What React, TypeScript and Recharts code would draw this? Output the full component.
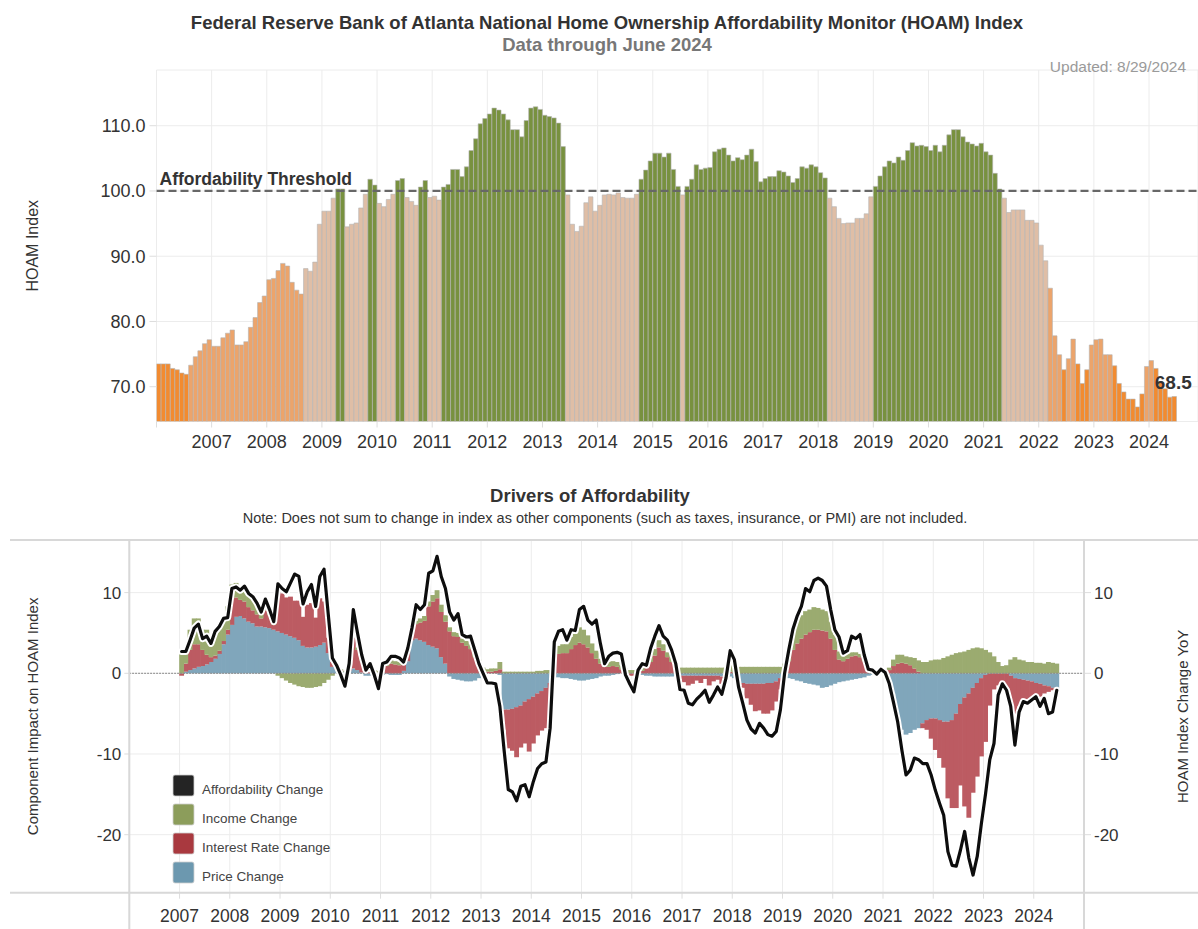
import React from 'react';
import {
  ComposedChart,
  Bar,
  Line,
  XAxis,
  YAxis,
  CartesianGrid,
  ReferenceLine,
  ReferenceDot,
  Cell,
} from 'recharts';

const FONT = "Arial, 'Liberation Sans', Helvetica, sans-serif";

// ---------- DATA ----------
const startYear = 2006; // first month of the HOAM index series = Jan 2006

// HOAM index, monthly Jan 2006 .. Jun 2024
const hoamIndex: number[] = [
  73.5, 73.5, 73.5, 72.8, 72.6, 72.1, 71.9, 73.3, 74.6, 75.5, 76.6, 77.2,
  76.2, 76.2, 77.5, 78.2, 78.7, 76.4, 76.4, 76.9, 79.1, 80.6, 82.9, 83.9,
  86.4, 86.6, 87.8, 88.9, 88.5, 86.0, 84.8, 84.2, 88.1, 87.7, 89.1, 94.9,
  96.9, 96.9, 98.9, 100.3, 100.3, 94.5, 94.9, 95.1, 97.4, 99.5, 101.8, 100.9,
  98.1, 97.6, 98.7, 99.5, 101.6, 101.9, 99.0, 98.4, 97.8, 100.6, 101.6, 99.0,
  99.2, 98.6, 100.6, 101.0, 103.3, 103.3, 102.2, 103.7, 106.2, 108.0, 110.3, 111.1,
  111.8, 112.7, 112.4, 111.8, 110.9, 109.4, 109.4, 108.3, 110.8, 112.7, 112.9, 112.5,
  111.6, 111.4, 111.2, 110.4, 106.8, 99.4, 94.9, 93.8, 94.6, 98.2, 99.1, 96.9,
  97.8, 99.4, 99.5, 99.4, 99.7, 99.0, 98.9, 98.9, 99.5, 101.8, 103.2, 104.6,
  105.8, 105.8, 105.2, 105.8, 103.3, 100.7, 99.4, 100.7, 101.8, 104.0, 103.3, 103.5,
  103.6, 106.0, 106.4, 106.6, 105.5, 104.6, 105.1, 104.8, 105.5, 106.4, 104.5, 101.4,
  101.9, 102.2, 102.2, 103.1, 102.9, 102.3, 101.3, 101.9, 103.7, 103.5, 104.0, 103.7,
  102.8, 102.0, 98.9, 97.6, 95.8, 95.0, 95.1, 95.1, 95.8, 95.8, 96.5, 99.1,
  100.7, 102.3, 103.7, 104.6, 104.3, 105.2, 104.7, 106.2, 107.4, 106.9, 107.0, 106.8,
  106.2, 107.0, 106.0, 107.0, 108.6, 109.4, 109.4, 108.3, 107.5, 107.2, 106.9, 107.3,
  106.0, 105.5, 102.7, 100.3, 98.9, 96.7, 97.1, 97.1, 97.1, 95.5, 95.5, 95.1,
  91.7, 89.3, 85.1, 77.8, 74.9, 72.6, 74.3, 77.3, 73.5, 70.5, 72.6, 76.4,
  77.2, 77.3, 74.9, 74.9, 73.2, 70.5, 69.2, 68.1, 68.1, 66.9, 68.9, 73.1,
  74.0, 72.8, 70.8, 69.7, 68.4, 68.5,
];

// colour class of consecutive months: [class, number of months]
const colorBands: [string, number][] = [
  ['low', 7], ['mid', 25], ['near', 7], ['above', 2], ['near', 5], ['above', 2],
  ['near', 4], ['above', 2], ['near', 3], ['above', 2], ['near', 3], ['above', 27],
  ['near', 16], ['above', 9], ['near', 1], ['above', 31], ['near', 10], ['above', 28],
  ['near', 10], ['mid', 3], ['low', 1], ['mid', 2], ['low', 3], ['mid', 5],
  ['low', 7], ['mid', 2], ['low', 5],
];

const affordabilityThreshold = 100;
const hoamTicks = [70, 80, 90, 100, 110];
const topYearTicks = [2006, 2007, 2008, 2009, 2010, 2011, 2012, 2013, 2014, 2015, 2016, 2017, 2018, 2019, 2020, 2021, 2022, 2023, 2024];

// Drivers of affordability, monthly Jan 2007 .. Jun 2024
const driversStartYear = 2007;
const affordabilityChange: number[] = [
  2.7, 2.7, 4.1, 5.6, 6.1, 4.3, 4.6, 3.7, 5.2, 5.8, 6.8, 6.9,
  10.5, 10.7, 10.3, 10.8, 9.9, 9.5, 8.7, 7.6, 9.2, 7.9, 6.4, 11.1,
  10.5, 10.1, 11.2, 12.3, 12.0, 8.6, 10.1, 11.0, 8.3, 12.0, 12.9, 7.4,
  1.9, 1.0, -0.2, -1.6, 1.2, 7.9, 5.0, 2.3, 0.4, 1.2, -0.2, -1.9,
  1.2, 1.4, 2.1, 2.1, 1.9, 1.4, 3.1, 5.6, 8.5, 7.9, 8.5, 12.4,
  12.7, 14.5, 12.0, 10.5, 7.6, 6.6, 7.4, 4.8, 4.5, 4.6, 2.9, 1.2,
  0.0, -1.2, -1.2, -1.3, -4.1, -9.5, -14.4, -14.7, -15.8, -14.0, -13.8, -15.3,
  -13.4, -11.8, -11.2, -11.0, -6.8, 3.9, 5.2, 5.4, 4.1, 5.4, 5.3, 7.9,
  8.3, 6.6, 6.1, 6.6, 3.7, 1.2, 2.1, 2.5, 2.6, 2.4, -0.2, -1.3,
  -2.3, 0.4, 1.2, 1.0, 3.1, 4.6, 5.9, 4.6, 4.1, 2.9, 1.2, -2.0,
  -2.1, -3.7, -3.9, -3.2, -2.7, -2.1, -3.6, -2.7, -1.7, -2.6, -0.6, 2.8,
  1.7, -1.7, -3.7, -5.8, -6.9, -7.4, -6.2, -6.8, -7.6, -7.8, -7.2, -4.5,
  0.0, 2.9, 5.5, 7.1, 8.3, 10.5, 10.1, 11.5, 11.8, 11.5, 10.8, 7.9,
  5.4, 4.5, 2.5, 2.8, 4.6, 4.3, 4.8, 2.3, 0.5, 0.4, -0.1, 0.5,
  0.1, -1.3, -3.6, -6.0, -9.5, -12.6, -12.0, -10.5, -10.7, -11.2, -11.2, -12.6,
  -14.5, -16.1, -17.6, -22.1, -23.8, -23.9, -21.9, -19.6, -22.9, -25.0, -22.7, -18.6,
  -14.9, -10.7, -8.7, -2.7, -1.3, -2.1, -4.1, -8.9, -4.8, -3.5, -3.7, -3.3,
  -2.9, -4.1, -3.1, -5.0, -4.8, -2.1,
];

const priceChange: number[] = [
  0.0, 0.2, 0.4, 0.6, 0.8, 0.9, 1.1, 1.4, 1.8, 2.4, 3.6, 4.8,
  6.0, 7.0, 7.1, 6.8, 6.4, 6.2, 5.8, 5.8, 5.7, 5.6, 5.4, 5.2,
  5.0, 4.8, 4.6, 4.4, 4.1, 3.4, 3.2, 3.2, 3.3, 3.5, 3.8, 2.5,
  0.8, 0.5, 0.3, 0.2, 0.3, 0.6, 0.4, 0.1, -0.3, -0.3, -0.2, -0.3,
  -0.2, -0.1, -0.2, -0.2, -0.2, 0.3, 1.5, 4.1, 4.3, 4.1, 3.9, 3.5,
  3.3, 3.1, 2.0, 1.2, -0.4, -0.7, -0.8, -0.9, -1.0, -1.0, -0.9, -0.6,
  -0.3, 0.0, 0.0, 0.0, -0.2, -4.5, -4.5, -4.4, -4.2, -4.0, -3.5, -3.2,
  -2.9, -2.5, -2.2, -1.8, -1.2, -0.4, -0.5, -0.6, -0.6, -0.7, -0.8, -0.9,
  -0.9, -0.8, -0.7, -0.6, -0.4, -0.3, -0.3, -0.2, -0.1, 0.0, 0.0, 0.0,
  0.0, -0.1, -0.2, -0.3, -0.3, -0.4, -0.4, -0.4, -0.4, -0.4, -0.3, -0.3,
  -0.3, -0.3, -0.3, -0.3, -0.3, -0.3, -0.3, -0.3, -0.3, -0.4, -0.4, -0.4,
  -0.6, -0.9, -1.2, -1.3, -1.3, -1.3, -1.3, -1.3, -1.2, -1.2, -1.0, -0.6,
  -0.4, -0.6, -0.7, -0.9, -1.0, -1.2, -1.3, -1.4, -1.5, -1.8, -1.7, -1.5,
  -1.3, -1.1, -1.0, -0.9, -0.8, -0.7, -0.6, -0.5, -0.3, -0.2, -0.1, 0.0,
  0.0, -0.8, -2.5, -5.4, -7.0, -7.6, -7.4, -7.0, -6.8, -6.2, -5.8, -5.6,
  -5.6, -5.8, -6.0, -6.0, -5.8, -5.0, -3.8, -3.0, -2.5, -1.8, -1.2, -0.6,
  -0.2, 0.0, 0.0, 0.0, 0.0, 0.0, -0.3, -0.6, -0.7, -0.8, -0.9, -1.0,
  -1.2, -1.3, -1.5, -1.6, -1.8, -1.9,
];

const rateChange: number[] = [
  -0.3, 1.0, 2.5, 3.0, 2.8, 2.0, 1.2, 0.6, 0.4, 0.4, 0.4, 0.6,
  3.2, 2.4, 2.0, 2.1, 1.8, 1.6, 1.5, 1.0, 2.1, 1.6, 0.6, 4.9,
  4.9, 4.6, 4.9, 4.6, 4.9, 3.6, 5.3, 5.5, 3.6, 5.8, 5.1, 1.9,
  0.6, 0.3, 0.1, -0.2, 0.5, 3.8, 2.5, 1.5, 0.6, 0.4, 0.2, 0.1,
  0.4, 0.9, 1.2, 1.1, 1.0, 0.8, 1.2, 1.2, 1.8, 2.2, 2.6, 4.8,
  5.6, 6.2, 5.6, 5.2, 5.2, 4.6, 4.5, 3.8, 3.4, 3.0, 2.0, 1.2,
  0.4, 0.2, 0.2, 0.3, 0.5, -2.5, -4.8, -5.2, -6.2, -5.2, -5.2, -6.5,
  -5.8, -5.2, -4.9, -5.0, -5.6, 2.0, 2.4, 2.5, 2.5, 3.0, 3.5, 3.8,
  3.6, 3.2, 2.5, 1.8, 1.2, 0.8, 0.8, 0.9, 0.8, 0.5, 0.2, -0.3,
  -0.3, 0.0, 0.3, 0.8, 1.4, 2.2, 3.2, 2.8, 2.0, 1.4, 0.6, -0.4,
  -0.8, -1.2, -1.0, -0.6, -0.9, -0.4, -1.2, -0.7, -0.5, -0.9, -0.4, 0.2,
  0.1, -0.5, -0.6, -1.8, -2.6, -3.4, -3.3, -3.7, -3.8, -3.4, -2.5, -1.4,
  0.3, 1.5, 2.9, 3.7, 4.3, 4.8, 5.1, 5.4, 5.4, 5.3, 5.2, 4.3,
  2.9, 1.7, 1.5, 1.8, 2.1, 2.2, 2.0, 1.5, 0.4, 0.0, 0.0, 0.0,
  0.0, 0.4, 0.9, 1.2, 1.3, 1.2, 1.0, 0.6, 0.2, -0.6, -1.2, -2.5,
  -3.9, -4.7, -5.7, -9.5, -10.9, -11.7, -10.1, -13.5, -15.4, -13.0, -11.6, -9.7,
  -8.3, -4.0, -2.0, -1.5, -1.5, -2.5, -4.5, -4.4, -3.4, -2.9, -2.9, -2.5,
  -2.1, -1.6, -1.0, -0.7, -0.3, -0.2,
];

const incomeChange: number[] = [
  2.7, 1.5, 2.5, 3.2, 3.2, 2.5, 3.1, 2.3, 3.2, 3.2, 2.7, 2.9,
  1.8, 1.8, 1.6, 2.1, 1.9, 1.7, 1.6, 1.3, 1.3, 0.7, 0.2, -0.3,
  -0.6, -0.9, -1.2, -1.4, -1.6, -1.7, -1.8, -1.8, -1.7, -1.6, -1.2, -0.8,
  -0.3, 0.1, 0.1, 0.1, 0.1, 0.3, 0.3, 0.2, 0.2, 0.2, 0.2, 0.2,
  0.3, 0.3, 0.4, 0.4, 0.4, 0.4, 0.4, 0.3, 0.4, 0.5, 0.6, 0.6,
  0.8, 1.0, 0.9, 0.8, 0.5, 0.5, 0.5, 0.5, 0.6, 0.6, 0.5, 0.5,
  0.3, 0.3, 0.4, 0.3, 0.9, 0.2, 0.2, 0.2, 0.2, 0.2, 0.2, 0.2,
  0.2, 0.3, 0.3, 0.4, 0.4, 1.0, 1.0, 1.1, 1.1, 1.5, 1.7, 1.9,
  1.8, 1.5, 1.2, 1.0, 0.6, 0.5, 0.6, 0.6, 0.6, 0.5, 0.4, 0.4,
  0.4, 0.4, 0.5, 0.5, 0.6, 0.8, 0.9, 0.8, 0.6, 0.6, 0.5, 0.7,
  0.7, 0.7, 0.7, 0.7, 0.7, 0.7, 0.7, 0.7, 0.7, 0.7, 0.7, 0.8,
  0.8, 0.8, 0.8, 0.8, 0.8, 0.8, 0.8, 0.8, 0.8, 0.8, 0.8, 0.8,
  0.9, 1.5, 2.5, 2.9, 2.9, 2.9, 2.8, 2.8, 2.7, 2.6, 2.5, 2.1,
  1.9, 1.0, 0.6, 0.6, 0.5, 0.4, 0.4, 0.4, 0.3, 0.2, 0.1, 0.1,
  0.2, 0.3, 0.8, 1.1, 1.0, 0.9, 1.0, 1.3, 1.4, 1.4, 1.4, 1.6,
  1.7, 1.7, 1.9, 2.1, 2.3, 2.5, 2.6, 2.7, 2.9, 3.1, 3.2, 3.1,
  2.9, 2.6, 2.1, 1.4, 0.9, 1.0, 1.7, 2.0, 1.7, 1.6, 1.4, 1.4,
  1.3, 1.3, 1.2, 1.4, 1.3, 1.2,
];

const driverTicks = [-20, -10, 0, 10];
const bottomYearTicks = [2007, 2008, 2009, 2010, 2011, 2012, 2013, 2014, 2015, 2016, 2017, 2018, 2019, 2020, 2021, 2022, 2023, 2024];

const legendItems = [
  { label: 'Affordability Change', color: '#242424' },
  { label: 'Income Change', color: '#8c9d5b' },
  { label: 'Interest Rate Change', color: '#a9393f' },
  { label: 'Price Change', color: '#6c98af' },
];

// ---------- DERIVED TABLES ----------
const zoneColor: Record<string, string> = {
  low: '#f28b30',
  mid: '#eca46b',
  near: '#dfbea6',
  above: '#78913f',
};
const zoneOfMonth: string[] = colorBands.flatMap(([z, n]) => Array(n).fill(z));
const hoamData = hoamIndex.map((v, i) => ({ t: i + 0.5, v, zone: zoneOfMonth[i] }));
const lastHoam = hoamData[hoamData.length - 1];

const monthOffset = (driversStartYear - startYear) * 12;
const driverData = affordabilityChange.map((c, i) => ({
  t: monthOffset + i + 0.5,
  change: c,
  price: priceChange[i],
  rate: rateChange[i],
  income: incomeChange[i],
}));

const toMonth = (year: number) => (year - startYear) * 12;

const ThresholdLabel = (props: any) => {
  const vb = props.viewBox || {};
  return (
    <text x={(vb.x || 0) + 3} y={(vb.y || 0) - 6} fill="#333" fontSize={17.5} fontWeight={700} fontFamily={FONT}>
      Affordability Threshold
    </text>
  );
};

const LastValueLabel = (props: any) => {
  const vb = props.viewBox || {};
  const cx = (vb.x || 0) + (vb.width || 0) / 2;
  return (
    <text x={cx - 1} y={(vb.y || 0) - 7} textAnchor="middle" fill="#333" fontSize={19} fontWeight={700} fontFamily={FONT}>
      {lastHoam.v.toFixed(1)}
    </text>
  );
};

const makeYearTick = (fontSize: number, baselineOffset: number) => (props: any) => {
  const { x, y, payload } = props;
  const year = startYear + Math.round(payload.value / 12);
  if (year === startYear) return <g />;
  return (
    <text x={x} y={y + baselineOffset} textAnchor="middle" fill="#333" fontSize={fontSize} fontFamily={FONT}>
      {year}
    </text>
  );
};

// stacked component bars drawn slightly wider so neighbouring months touch (no seams)
const SeamlessBar = (props: any) => {
  const { x, y, width, height, fill } = props;
  if (!height || !width) return <g />;
  const top = Math.min(y, y + height);
  const h = Math.abs(height);
  return <rect x={x - 0.35} y={top} width={width + 0.7} height={h} fill={fill} />;
};

export default function App() {
  const W = 1198;
  const H = 929;
  const X_AXIS_H = 30;
  // top chart geometry
  const topH = 470;
  const topPlotLeft = 156.5;
  const topPlotTop = 70;
  const topPlotBottom = 421.5;
  const topMonthPx = 4.595;
  const topXMax = (W - topPlotLeft) / topMonthPx;
  // bottom chart geometry
  const botPlotLeft = 129.3;
  const botPlotRight = 1084;
  const botPlotTop = 540;
  const botPlotBottom = 892.7;
  const botBarSize = 4.15;

  return (
    <div style={{ position: 'absolute', left: 0, top: 0, width: W, height: H, background: '#fff', fontFamily: FONT }}>
      {/* TOP CHART */}
      <div style={{ position: 'absolute', left: 0, top: 0 }}>
        <ComposedChart
          width={W}
          height={topH}
          data={hoamData}
          margin={{ top: topPlotTop, right: 0, bottom: topH - topPlotBottom - X_AXIS_H, left: 0 }}
          barCategoryGap={0}
          barGap={0}
        >
          <CartesianGrid stroke="#ececec" strokeWidth={1} />
          <XAxis
            type="number"
            dataKey="t"
            height={X_AXIS_H}
            domain={[0, topXMax]}
            allowDataOverflow
            ticks={topYearTicks.map(toMonth)}
            axisLine={false}
            tickLine={{ stroke: '#dddddd' }}
            tickSize={6}
            tickMargin={0}
            tick={makeYearTick(18, 20.5)}
            interval={0}
          />
          <YAxis
            type="number"
            domain={[64.67, 118.54]}
            allowDataOverflow
            ticks={hoamTicks}
            width={topPlotLeft}
            axisLine={false}
            tickLine={{ stroke: '#dddddd' }}
            tickSize={7}
            tickMargin={4}
            tickFormatter={(v: number) => v.toFixed(1)}
            tick={{ fill: '#333', fontSize: 18, fontFamily: FONT }}
            interval={0}
          />
          <Bar dataKey="v" barSize={4.5} isAnimationActive={false} stroke="#b4b4b4" strokeWidth={0.6}>
            {hoamData.map((d, i) => (
              <Cell key={i} fill={zoneColor[d.zone]} />
            ))}
          </Bar>
          <ReferenceLine
            y={affordabilityThreshold}
            stroke="#676767"
            strokeWidth={2.2}
            strokeDasharray="8 4"
            label={<ThresholdLabel />}
          />
          <ReferenceDot
            x={lastHoam.t}
            y={lastHoam.v}
            r={1}
            fill="none"
            stroke="none"
            label={<LastValueLabel />}
          />
        </ComposedChart>
      </div>

      {/* BOTTOM CHART */}
      <div style={{ position: 'absolute', left: 0, top: 0 }}>
        <ComposedChart
          width={W}
          height={H}
          data={driverData}
          stackOffset="sign"
          margin={{ top: botPlotTop, right: 0, bottom: H - botPlotBottom - X_AXIS_H, left: 0 }}
          barCategoryGap={0}
          barGap={0}
        >
          <CartesianGrid stroke="#ececec" strokeWidth={1} yAxisId="left" />
          <XAxis
            type="number"
            dataKey="t"
            height={X_AXIS_H}
            domain={[0, 228]}
            allowDataOverflow
            ticks={bottomYearTicks.map(toMonth)}
            axisLine={false}
            tickLine={{ stroke: '#dddddd' }}
            tickSize={6}
            tickMargin={0}
            tick={makeYearTick(17.5, 23)}
            interval={0}
          />
          <YAxis
            yAxisId="left"
            type="number"
            domain={[-27.19, 16.52]}
            allowDataOverflow
            ticks={driverTicks}
            width={botPlotLeft}
            axisLine={false}
            tickLine={{ stroke: '#dddddd' }}
            tickSize={5}
            tickMargin={3}
            tick={{ fill: '#333', fontSize: 17, fontFamily: FONT }}
            interval={0}
          />
          <YAxis
            yAxisId="right"
            orientation="right"
            type="number"
            domain={[-27.19, 16.52]}
            allowDataOverflow
            ticks={driverTicks}
            width={W - botPlotRight}
            axisLine={false}
            tickLine={{ stroke: '#dddddd' }}
            tickSize={7}
            tickMargin={3}
            tick={{ fill: '#333', fontSize: 17, fontFamily: FONT }}
            interval={0}
          />
          <Bar yAxisId="left" dataKey="price" stackId="d" barSize={botBarSize} fill="#80a6bb" shape={SeamlessBar} isAnimationActive={false} />
          <Bar yAxisId="left" dataKey="rate" stackId="d" barSize={botBarSize} fill="#bc5b62" shape={SeamlessBar} isAnimationActive={false} />
          <Bar yAxisId="left" dataKey="income" stackId="d" barSize={botBarSize} fill="#9bab70" shape={SeamlessBar} isAnimationActive={false} />
          <ReferenceLine yAxisId="left" y={0} stroke="#8a8a8a" strokeWidth={1.2} strokeDasharray="1.5 1.5" />
          <Line
            yAxisId="right"
            type="linear"
            dataKey="change"
            stroke="#ffffff"
            strokeWidth={7}
            dot={false}
            activeDot={false}
            strokeLinejoin="round"
            strokeLinecap="round"
            isAnimationActive={false}
          />
          <Line
            yAxisId="right"
            type="linear"
            dataKey="change"
            stroke="#0d0d0d"
            strokeWidth={3.2}
            dot={false}
            activeDot={false}
            strokeLinejoin="round"
            strokeLinecap="round"
            isAnimationActive={false}
          />
        </ComposedChart>
      </div>

      {/* TITLES, AXIS TITLES, FRAME, LEGEND */}
      <svg
        width={W}
        height={H}
        style={{ position: 'absolute', left: 0, top: 0, pointerEvents: 'none' }}
      >
        <text x={607} y={29} textAnchor="middle" fill="#333" fontSize={18.5} fontWeight={700} fontFamily={FONT}>
          Federal Reserve Bank of Atlanta National Home Ownership Affordability Monitor (HOAM) Index
        </text>
        <text x={607} y={51} textAnchor="middle" fill="#777" fontSize={18.5} fontWeight={700} fontFamily={FONT}>
          Data through June 2024
        </text>
        <text x={1186} y={72} textAnchor="end" fill="#9a9a9a" fontSize={15.5} fontFamily={FONT}>
          Updated: 8/29/2024
        </text>
        <text
          transform={`translate(38, ${(topPlotTop + topPlotBottom) / 2}) rotate(-90)`}
          textAnchor="middle"
          fill="#333"
          fontSize={16}
          fontFamily={FONT}
        >
          HOAM Index
        </text>

        <text x={590} y={502} textAnchor="middle" fill="#333" fontSize={18.5} fontWeight={700} fontFamily={FONT}>
          Drivers of Affordability
        </text>
        <text x={605} y={523} textAnchor="middle" fill="#333" fontSize={14.5} fontFamily={FONT}>
          Note: Does not sum to change in index as other components (such as taxes, insurance, or PMI) are not included.
        </text>

        {/* frame of lower chart */}
        <line x1={10} x2={W} y1={botPlotTop} y2={botPlotTop} stroke="#d8d8d8" strokeWidth={2} />
        <line x1={10} x2={W} y1={botPlotBottom} y2={botPlotBottom} stroke="#d8d8d8" strokeWidth={2} />
        <line x1={botPlotLeft} x2={botPlotLeft} y1={botPlotTop} y2={H} stroke="#d8d8d8" strokeWidth={2} />
        <line x1={botPlotRight} x2={botPlotRight} y1={botPlotTop} y2={H} stroke="#d8d8d8" strokeWidth={2} />

        <text
          transform={`translate(38, ${(botPlotTop + botPlotBottom) / 2}) rotate(-90)`}
          textAnchor="middle"
          fill="#333"
          fontSize={15}
          fontFamily={FONT}
        >
          Component Impact on HOAM Index
        </text>
        <text
          transform={`translate(1188, ${(botPlotTop + botPlotBottom) / 2}) rotate(-90)`}
          textAnchor="middle"
          fill="#333"
          fontSize={15}
          fontFamily={FONT}
        >
          HOAM Index Change YoY
        </text>

        {legendItems.map((item, i) => (
          <g key={item.label}>
            <rect x={173} y={775 + i * 29} width={21} height={21} rx={2} fill={item.color} stroke="#cfcfcf" strokeWidth={0.8} />
            <text x={202} y={794 + i * 29} fill="#444" fontSize={13.5} fontFamily={FONT}>
              {item.label}
            </text>
          </g>
        ))}
      </svg>
    </div>
  );
}
